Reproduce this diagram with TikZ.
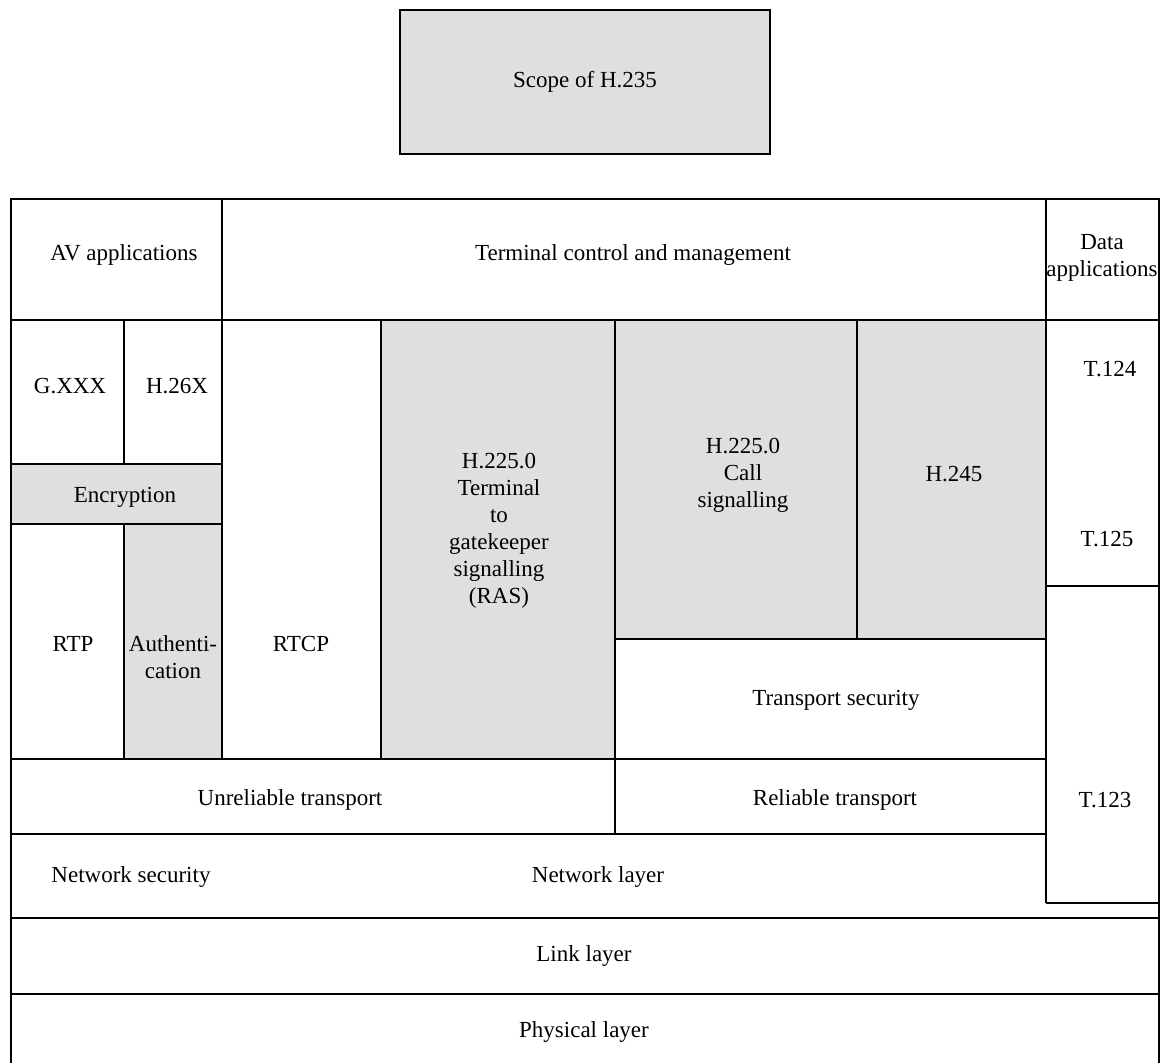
\documentclass[tikz,border=0pt]{standalone}
\usepackage{fontspec}
\setmainfont{Liberation Serif}
\definecolor{boxgray}{RGB}{223,223,223}
\begin{document}
\begin{tikzpicture}[x=1pt,y=-1pt,
  rule/.style={draw=black,line width=2.4pt},
  shaded/.style={fill=boxgray},
  lbl/.style={font=\fontsize{23}{27}\selectfont,align=center,inner sep=0pt},
]
\useasboundingbox (0,0) rectangle (1160,1063);

% scope legend
\path[rule,shaded] (400,10) rectangle (770,154);
\node[lbl] (scope) at (585,82) {Scope of H.235};

% shaded areas covered by H.235
\fill[boxgray] (11,464) rectangle (222,524);
\fill[boxgray] (124,524) rectangle (222,759);
\fill[boxgray] (381,320) rectangle (615,759);
\fill[boxgray] (615,320) rectangle (1046,639);

% outer frame (bottom edge runs off the page)
\draw[rule] (11,1070) -- (11,199) -- (1159,199) -- (1159,1070);

% horizontal rules
\draw[rule] (11,320) -- (1159,320);
\draw[rule] (11,464) -- (222,464);
\draw[rule] (11,524) -- (222,524);
\draw[rule] (615,639) -- (1046,639);
\draw[rule] (11,759) -- (1046,759);
\draw[rule] (1046,586) -- (1159,586);
\draw[rule] (11,834) -- (1046,834);
\draw[rule] (1046,903) -- (1159,903);
\draw[rule] (11,918) -- (1159,918);
\draw[rule] (11,994) -- (1159,994);

% vertical rules
\draw[rule] (222,199) -- (222,759);
\draw[rule] (1046,199) -- (1046,903);
\draw[rule] (124,320) -- (124,464);
\draw[rule] (124,524) -- (124,759);
\draw[rule] (381,320) -- (381,759);
\draw[rule] (615,320) -- (615,834);
\draw[rule] (857,320) -- (857,639);

% labels
\node[lbl] (av)   at (124,255) {AV applications};
\node[lbl] (tcm)  at (633,255) {Terminal control and management};
\node[lbl] (data) at (1102,258) {Data\\applications};
\node[lbl] (gxxx) at (70,386) {G.XXX};
\node[lbl] (h26x) at (177,386) {H.26X};
\node[lbl] (enc)  at (125,497) {Encryption};
\node[lbl] (rtp)  at (73,644) {RTP};
\node[lbl] (auth) at (173,657) {Authenti-\\cation};
\node[lbl] (rtcp) at (301,644) {RTCP};
\node[lbl] (ras)  at (499,531) {H.225.0\\Terminal\\to\\gatekeeper\\signalling\\(RAS)};
\node[lbl] (call) at (743,475) {H.225.0\\Call\\signalling};
\node[lbl] (h245) at (954,474) {H.245};
\node[lbl] (t124) at (1110,369) {T.124};
\node[lbl] (t125) at (1107,539) {T.125};
\node[lbl] (t123) at (1105,800) {T.123};
\node[lbl] (tsec) at (836,700) {Transport security};
\node[lbl] (unrel) at (290,800) {Unreliable transport};
\node[lbl] (rel)  at (835,800) {Reliable transport};
\node[lbl] (nsec) at (131,877) {Network security};
\node[lbl] (net)  at (598,877) {Network layer};
\node[lbl] (link) at (584,956) {Link layer};
\node[lbl] (phys) at (584,1032) {Physical layer};
\end{tikzpicture}
\end{document}
